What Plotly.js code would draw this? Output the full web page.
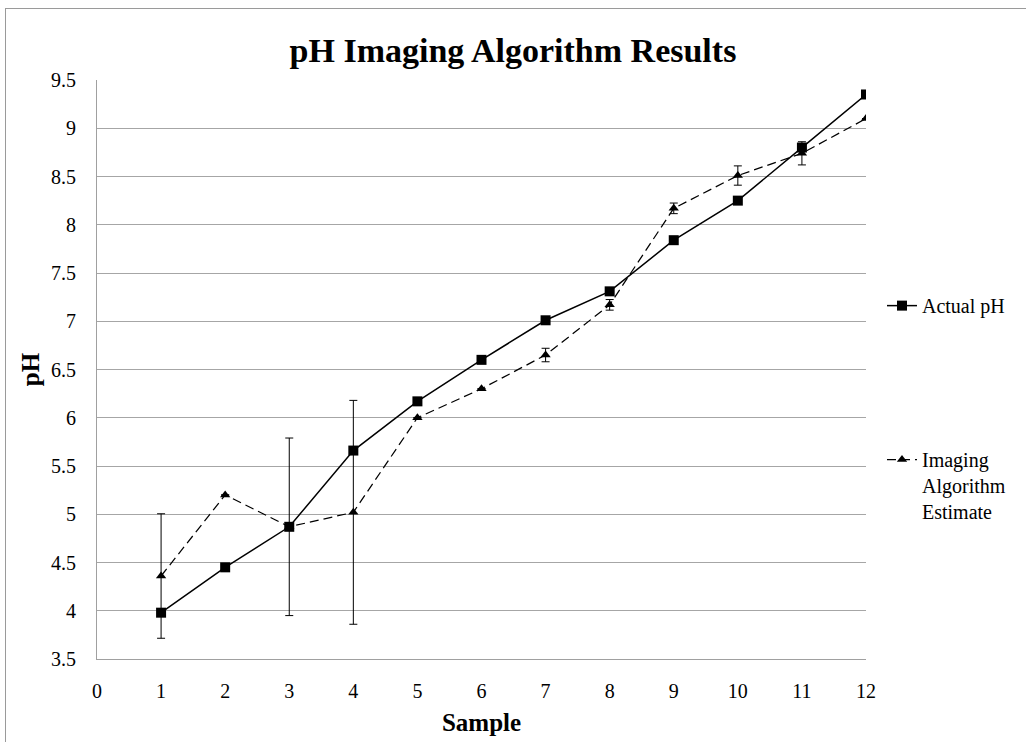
<!DOCTYPE html>
<html>
<head>
<meta charset="utf-8">
<script src="https://cdn.plot.ly/plotly-3.0.1.min.js"></script>
<style>
  html, body { margin: 0; padding: 0; background: #fff; overflow: hidden; }
  #wrap { position: relative; width: 1026px; height: 742px; overflow: hidden; }
  #frame { position: absolute; left: 5px; top: 8px; width: 1100px; height: 800px; border: 1px solid #9a9a9a; pointer-events: none; z-index: 5; }
  #chart { position: absolute; left: 0; top: 0; width: 1026px; height: 742px; }
</style>
</head>
<body>
<div id="wrap">
  <div id="chart"></div>
  <div id="frame"></div>
</div>
<script>
const samples = [1, 2, 3, 4, 5, 6, 7, 8, 9, 10, 11, 12];
const actualPH = [3.98, 4.45, 4.87, 5.66, 6.17, 6.60, 7.01, 7.31, 7.84, 8.25, 8.80, 9.35];
const estimatePH = [4.36, 5.20, 4.87, 5.02, 6.00, 6.30, 6.65, 7.17, 8.17, 8.51, 8.74, 9.10];
const estimateErr = [0.645, null, 0.92, 1.16, null, null, 0.07, 0.055, 0.055, 0.10, 0.12, null];
const yTicks = [3.5, 4, 4.5, 5, 5.5, 6, 6.5, 7, 7.5, 8, 8.5, 9, 9.5];
const xTicks = [0, 1, 2, 3, 4, 5, 6, 7, 8, 9, 10, 11, 12];

const serif = "Liberation Serif";

const traces = [
  {
    x: samples, y: actualPH, name: 'Actual pH', type: 'scatter', mode: 'lines+markers',
    legendgroup: 'a',
    line: { color: '#000', width: 1.5 },
    marker: { symbol: 'square', size: 10, color: '#000' }
  },
  {
    x: samples, y: estimatePH, name: 'Imaging<br>Algorithm<br>Estimate', type: 'scatter', mode: 'lines+markers',
    legendgroup: 'b',
    line: { color: '#000', width: 1.25, dash: '9px,5px' },
    marker: { symbol: 'triangle-up', size: 9, color: '#000' },
    error_y: { type: 'data', array: estimateErr, visible: true, color: '#000', thickness: 1, width: 4 }
  }
];

const layout = {
  width: 1026, height: 742,
  paper_bgcolor: '#fff', plot_bgcolor: '#fff',
  margin: { l: 97, r: 160, t: 80, b: 83 },
  font: { family: serif, color: '#000', size: 20 },
  title: {
    text: '<b>pH Imaging Algorithm Results</b>',
    font: { family: serif, size: 34, color: '#000' },
    x: 0.5, xref: 'container', xanchor: 'center',
    y: 1 - 50 / 742, yref: 'container', yanchor: 'middle'
  },
  xaxis: {
    range: [0, 12], tickvals: xTicks, ticktext: xTicks.map(String),
    showgrid: false, zeroline: false, showline: true, linecolor: '#a0a0a0', linewidth: 1,
    ticks: '', ticklabelstandoff: 14,
    tickfont: { family: serif, size: 20, color: '#000' },
    title: { text: '<b>Sample</b>', font: { family: serif, size: 25, color: '#000' }, standoff: 12 }
  },
  yaxis: {
    range: [3.5, 9.5], tickvals: yTicks, ticktext: yTicks.map(String),
    showgrid: true, gridcolor: '#a6a6a6', gridwidth: 1,
    zeroline: false, showline: true, linecolor: '#a0a0a0', linewidth: 1,
    ticks: '', ticklabelstandoff: 16,
    tickfont: { family: serif, size: 20, color: '#000' },
    title: { text: '<b>pH</b>', font: { family: serif, size: 25, color: '#000' }, standoff: 4 }
  },
  legend: {
    x: 1.0208, xanchor: 'left', y: 0.644, yanchor: 'top',
    traceorder: 'grouped', tracegroupgap: 125, valign: 'top',
    font: { family: serif, size: 20, color: '#000' },
    bgcolor: 'rgba(0,0,0,0)', borderwidth: 0
  },
  showlegend: true
};

Plotly.newPlot('chart', traces, layout, { displayModeBar: false, staticPlot: true });
</script>
</body>
</html>
